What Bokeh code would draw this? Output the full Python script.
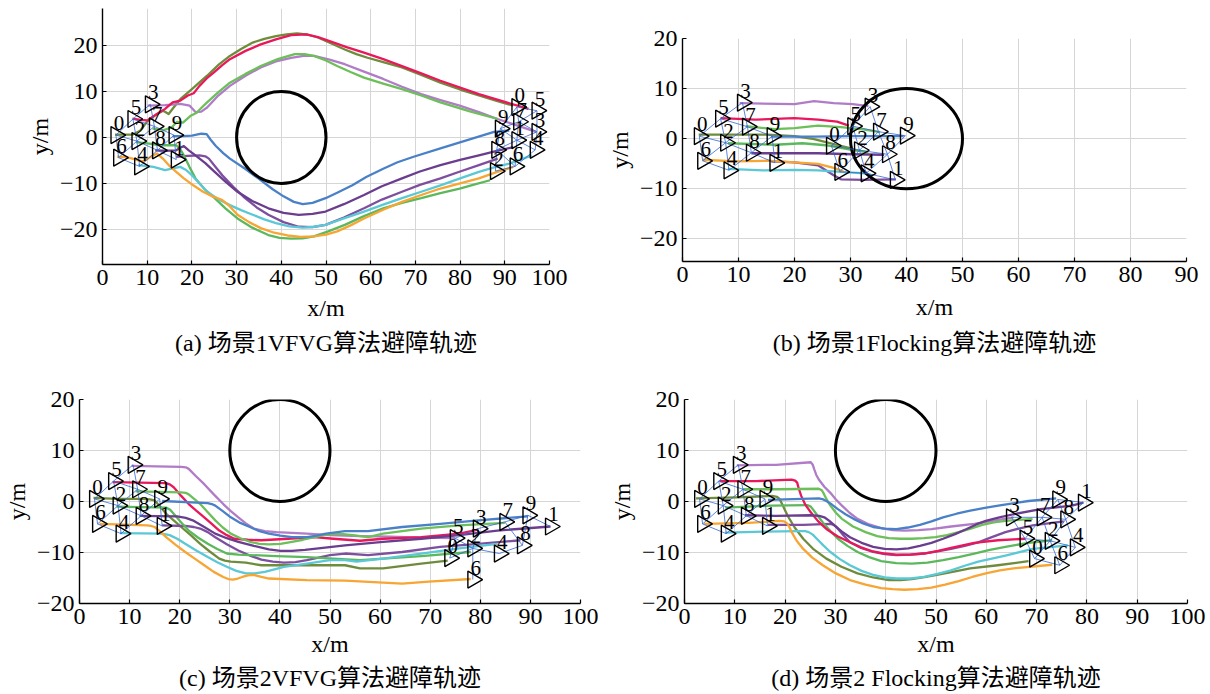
import numpy as np
from bokeh.plotting import figure
from bokeh.layouts import column, row
from bokeh.models import Range1d, FixedTicker, Title
from bokeh.core.properties import value
from bokeh.embed import file_html
from bokeh.resources import INLINE

AGENT_LABELS = ["0", "1", "2", "3", "4", "5", "6", "7", "8", "9"]
COLORS = ["#6e8c3c", "#7e4f9e", "#5cb85c", "#b07cc8", "#5bc8d5",
          "#e8185a", "#f7a533", "#6dbf5a", "#6a3d8e", "#4a80c8"]

# initial formation (same in all scenes)
START_X = [3.0, 16.5, 7.7, 10.7, 8.3, 6.8, 3.6, 11.6, 12.3, 16.0]
START_Y = [0.5, -4.8, -0.8, 7.2, -6.3, 4.0, -4.4, 2.4, -2.8, 0.5]

# final formations
A_END_X = [92.7, 92.7, 87.9, 97.2, 96.8, 97.2, 92.3, 93.1, 88.2, 89.0]
A_END_Y = [6.6, -0.6, -7.3, 1.2, -2.7, 5.8, -6.3, 3.4, -2.7, 1.9]
B_END_X = [26.6, 38.0, 31.6, 33.5, 32.8, 30.4, 28.1, 35.0, 36.6, 39.8]
B_END_Y = [-1.4, -8.2, -2.3, 6.4, -6.9, 2.5, -6.6, 1.4, -3.1, 0.6]
C_END_X = [73.9, 94.0, 78.5, 79.6, 83.8, 75.0, 78.5, 84.9, 88.4, 89.5]
C_END_Y = [-11.1, -4.9, -9.2, -5.3, -10.2, -7.2, -15.3, -4.0, -8.6, -2.7]
D_END_X = [69.6, 79.3, 72.7, 65.0, 77.7, 67.7, 74.6, 71.1, 75.8, 74.2]
D_END_Y = [-11.2, -0.2, -7.7, -3.1, -9.0, -7.3, -12.5, -3.1, -3.5, 0.4]

LINK_DIST = 6.2

# obstacles (centre x, centre y, radius)
OBST_X = [40, 40, 40, 40]
OBST_Y = [0, 0, 10, 10]
OBST_R = 10

# ---------------- scene 1, VFVG (a) ----------------
a0 = [(2.8, 0.6), (5, 0.6), (6.7, 0.6), (8.5, 1.5), (10, 3.5), (11.5, 4.6), (13, 5.5), (13.6, 5.8), (14.8, 5.1),
      (16, 6.6), (17.4, 8.3), (20, 10.5), (23.4, 13.4), (26, 15.8), (28.5, 17.7), (31, 19.2), (33.6, 20.6),
      (36.2, 21.4), (38.8, 22), (41.2, 22.4), (43.5, 22.6), (46, 22.3), (48.2, 21.7), (51.2, 20.4), (54.2, 19.1),
      (56.8, 18.1), (59.3, 17.3), (63, 16.3), (67, 15.2), (71.3, 13.6), (75.6, 11.9), (80, 10.4), (84.2, 9.1),
      (88, 8), (91.9, 6.9)]
a1 = [(16.5, -4.2), (19, -4), (21.7, -3.9), (23, -4.1), (23.8, -4.6), (25.2, -6.3), (26.8, -8.2), (29.3, -10.8),
      (31.9, -13.2), (34.5, -15.2), (37.1, -16.8), (40.5, -18.4), (43.9, -19.4), (47, -19.5), (49.9, -19),
      (54, -17.4), (58.5, -15.4), (62.5, -13.5), (67, -11.8), (71, -10.3), (75.6, -8.9), (80, -7.4), (84.2, -6),
      (88.4, -4.6)]
a2 = [(7.5, -1), (10, -1.3), (13.1, -1.7), (16.5, -1.7), (17.4, -2.6), (18.2, -3.9), (19.5, -6.5), (20.8, -8.9),
      (22.8, -11.2), (25.1, -13.2), (27.5, -15.4), (30.2, -17.6), (33.5, -19.6), (37.1, -21.2), (39.6, -21.8),
      (42.2, -22), (44.8, -21.9), (47.3, -21.5), (50.5, -20.4), (54.2, -19), (58.5, -17.1), (62.8, -15.4),
      (67, -14.2), (71.3, -13.2), (75.6, -12.1), (79.9, -11.1), (83.3, -10.2), (86.7, -9.3)]
a3 = [(10.1, 6.9), (14, 7), (17.4, 7.3), (19.5, 6.9), (20.8, 5.5), (22.1, 5.6), (23.4, 6.5), (25.9, 9.1),
      (28.5, 11.2), (32, 13.4), (35.4, 15.2), (38.8, 16.5), (42.2, 17.3), (45, 17.7), (47.3, 17.7), (50.8, 16.9),
      (54.2, 15.9), (58.5, 14.3), (62.8, 12.7), (67, 11), (71.3, 9.4), (75.6, 8.1), (79.9, 6.9), (84.2, 5.5),
      (88.4, 4), (92.7, 2.6), (97, 1.2)]
a4 = [(8, -6), (11.4, -6.4), (14, -7.1), (15.5, -6.8), (17.4, -6.4), (18.6, -7), (20, -8.2), (21.7, -10),
      (23.4, -11.8), (25.9, -13.4), (28.5, -14.7), (31, -15.8), (33.6, -16.8), (36.2, -17.8), (38.8, -18.6),
      (41.8, -19.3), (44.8, -19.6), (47.3, -19.4), (49.9, -19), (54, -17.6), (58.5, -16.1), (62.8, -14.6),
      (67, -13.2), (71.3, -11.8), (75.6, -10.4), (80, -8.9), (84.2, -7.5), (88, -6.4), (91, -5.7), (96.1, -3.9)]
a5 = [(6.7, 4.1), (8.5, 3.8), (10.1, 3.7), (12, 5), (14, 6.2), (15.7, 7.6), (17.4, 8), (19.1, 9.1), (20.4, 9.6),
      (21.7, 11.2), (23.3, 12.8), (25, 14.2), (26.8, 15.7), (28.5, 17), (32, 18.8), (35.4, 20.2), (38.8, 21.3),
      (42.2, 22.2), (45.6, 22.4), (48.2, 21.8), (50.8, 20.9), (54.6, 19.6), (58.5, 18.4), (62.8, 17), (67, 15.5),
      (71.3, 13.9), (75.6, 12.3), (80, 10.8), (84.2, 9.4), (90, 7.7), (95.3, 6.2)]
a6 = [(3.3, -4.2), (5, -4.3), (6.3, -4.5), (8, -5), (9.2, -5.2), (10.8, -4.2), (12.2, -3.5), (13.5, -4.6),
      (14.8, -6), (16.5, -7.5), (18.2, -8.9), (20.3, -10.4), (22.5, -11.8), (24.6, -12.8), (26.8, -13.6),
      (28.5, -15), (30.2, -16.8), (32.8, -18.4), (35.4, -19.7), (38.4, -20.7), (41.4, -21.3), (44.3, -21.6),
      (47.3, -21.5), (50, -21.1), (52.5, -20.4), (55.5, -19.1), (58.5, -17.6), (62.8, -15.7), (67, -14),
      (71.3, -12.5), (75.6, -11.1), (80, -10), (84.2, -8.9), (88, -7.6), (91.9, -6.4)]
a7 = [(11.2, 1.9), (13.7, 1.6), (15.5, 2.2), (16.7, 3.4), (18, 3.2), (19.7, 4.7), (21, 5.3), (22.2, 6.5),
      (23.4, 7.6), (26, 9.9), (28.5, 11.9), (32, 13.8), (35.4, 15.5), (39.2, 17), (43, 18.1), (45.2, 18.1),
      (47.3, 17.7), (50, 16.7), (52.5, 15.5), (55.5, 14.2), (58.5, 13), (62.8, 11.7), (67, 10.5), (71.3, 9.1),
      (75.6, 7.6), (82, 5.7), (88.4, 4)]
a8 = [(11.8, -2.8), (14, -2.9), (16.5, -2.8), (17.5, -2.2), (18.2, -1.9), (19.3, -2.8), (20.8, -3.9), (23, -5.6),
      (25.1, -7.5), (27.5, -9.6), (30.2, -11.8), (33.5, -13.8), (37.1, -15.4), (40.5, -16.4), (43.9, -16.8),
      (47, -16.6), (49.9, -16.1), (54, -14.5), (58.5, -12.5), (62.5, -10.6), (67, -8.9), (71, -7.4), (75.6, -6),
      (80, -4.9), (84.2, -3.9), (88, -3), (91.9, -2.1)]
a9 = [(15.7, 0.3), (18, 0.3), (20, 0.4), (22.1, 0.8), (23.3, 0.7), (24.2, -0.5), (25.3, -1.8), (27, -3.4),
      (28.5, -4.6), (31.9, -6.8), (35, -9), (38, -11.2), (40.5, -12.8), (42.8, -14), (44.8, -14.5), (47, -14.2),
      (49.9, -13.2), (52.5, -12), (55.9, -10.4), (59, -8.6), (62.8, -6.8), (66, -5.4), (69.6, -4.2), (75.6, -2.4),
      (81.6, -0.6), (87.6, 1.2), (91, 1.5)]

# ---------------- scene 1, Flocking (b) ----------------
b0 = [(2.9, 0.8), (9.5, 0.8), (15.1, 0.8), (20, 0.5), (23.5, -0.1), (26.3, -0.9), (29.7, -1.8), (31.5, -2.4)]
b1 = [(15.8, -4.5), (20, -4.7), (24.2, -5.3), (26, -6.6), (27, -7.3), (28.3, -8.1), (32.5, -8.2), (38.1, -8.1)]
b2 = [(8.1, -0.9), (16.5, -1.2), (21.4, -0.9), (25.6, -1.3), (29.7, -2.1), (33.2, -2.7)]
b3 = [(10.2, 7.1), (20, 6.9), (23.5, 7.5), (27, 7.1), (30.4, 6.9), (33.2, 6.5)]
b4 = [(8.1, -6), (14.4, -6.3), (20, -6.2), (24.2, -6.3), (28.3, -6.6), (32.5, -6.9), (33.9, -7.3)]
b5 = [(6.8, 4.1), (13, 3.8), (20, 4.1), (24.2, 3.8), (27.6, 3.4), (29.7, 2.6)]
b6 = [(3.6, -4.2), (9.5, -4.5), (15.8, -4.4), (20, -4.7), (24.2, -5), (27, -5.8), (28.7, -6.5)]
b7 = [(11.3, 2.5), (16.5, 1.9), (20, 2.1), (24.2, 2.6), (28.3, 2.3), (32.5, 1.8), (35.3, 1.3)]
b8 = [(12.3, -2.9), (18.6, -2.9), (24.2, -2.9), (30.4, -3.1), (36, -3.2)]
b9 = [(15.8, 0.4), (23.5, 0.4), (30.4, 0.5), (39.5, 0.5)]

# ---------------- scene 2, VFVG (c) ----------------
c0 = [(2.8, 0.7), (7.4, 0.5), (12.7, 0.5), (14, 0.4), (15, 0.2), (16.1, -1), (17.3, -2.4), (18.8, -3.7),
      (20.3, -5), (22.2, -6.6), (24.1, -8.3), (26, -9.8), (27.9, -11.2), (29, -11.6), (30.2, -11.8), (33.2, -12),
      (36.3, -12.5), (41.6, -12.5), (49.2, -12.5), (53, -12.5), (56, -13.1), (60.6, -13.1), (68.2, -12.2),
      (73.5, -11.6)]
c1 = [(16.5, -4.7), (21.1, -4.8), (22.8, -5), (24.1, -5.3), (25.6, -6), (27.1, -7), (29.4, -8.4), (31.7, -9.6),
      (34, -10.6), (36.3, -11.4), (38.6, -11.8), (40.8, -12), (43.1, -11.9), (45.4, -11.5), (47.7, -11),
      (50, -10.5), (53, -10.2), (57.6, -10.5), (64.4, -9.9), (72, -8.9), (79.6, -8.3), (88, -7.6)]
c2 = [(7.4, -1), (17.3, -1.2), (18.1, -1.6), (18.8, -2.4), (20.3, -4.1), (21.8, -5.7), (23.7, -7.1),
      (25.6, -8.3), (27.5, -9.3), (29.4, -10.2), (31.7, -10.4), (34, -10.5), (39.3, -10.7), (45.4, -10.9),
      (50.7, -11.2), (56, -11.5), (60.6, -11.2), (68.2, -10.7), (78.1, -9.9)]
c3 = [(10.4, 7), (20.3, 6.8), (21.2, 6.7), (21.8, 6.4), (23.2, 5), (24.9, 3.4), (26.8, 1.4), (28.7, -0.5),
      (30.2, -1.9), (31.7, -3.1), (33.2, -4.3), (34.8, -5.3), (37, -5.8), (39.3, -6), (45.4, -6.3), (50, -6.6),
      (56, -6.8), (62, -6.9), (68, -7.1), (75, -7.2)]
c4 = [(8.1, -6.2), (16.5, -6.3), (18, -6.6), (19.5, -7.3), (21.1, -8.3), (23.3, -9.6), (25.6, -10.9),
      (27.5, -11.9), (29.4, -12.8), (31.3, -13.6), (33.2, -14.1), (35, -14.1), (37, -13.8), (38.9, -13.3),
      (40.8, -12.8), (45.4, -12.2), (50, -11.5), (53, -11.5), (55.3, -11.8), (60.6, -11.2), (68.2, -10.2),
      (75.8, -9.2), (83.4, -8.3)]
c5 = [(6.6, 3.8), (17.3, 3.6), (18.1, 3.3), (18.8, 2.8), (20.3, 1.1), (21.8, -0.5), (23.3, -1.8), (24.9, -3.1),
      (26.4, -4.4), (27.9, -5.7), (29.4, -6.6), (30.9, -7.3), (33.6, -7.5), (36.3, -7.6), (41.6, -7.3),
      (46.9, -7), (50.7, -7.3), (56, -7.7), (60.6, -7.3), (68.2, -7), (75.8, -6.3), (79.6, -5.5)]
c6 = [(4, -4.4), (7.4, -4.5), (13.5, -4.7), (14.3, -4.8), (15, -5), (16.1, -5.9), (17.3, -7), (19.2, -8.5),
      (21.1, -9.9), (23, -11.2), (24.9, -12.5), (26.8, -13.8), (28.7, -14.8), (29.7, -15.2), (30.6, -15.3),
      (31.6, -15.1), (32.5, -14.8), (33.6, -14.5), (34.8, -14.4), (36.3, -14.8), (37.8, -15.1), (45.4, -15.4),
      (53, -15.5), (60.6, -15.9), (64.4, -16.1), (69.7, -15.7), (78.1, -15.2)]
c7 = [(11.2, 2), (20.3, 1.8), (21.2, 1.7), (21.8, 1.4), (23, 0.4), (24.1, -0.5), (25.6, -2.1), (27.1, -3.7),
      (28.6, -5.1), (30.2, -6.3), (32.1, -7.2), (34, -7.9), (35.9, -8.3), (37.8, -8.4), (40.1, -8.3),
      (42.4, -7.9), (44.6, -7.5), (46.9, -7), (48.8, -6.6), (50.7, -6.4), (52.6, -6.4), (54.5, -6.6),
      (57.6, -7), (60.6, -6.3), (68.2, -5.3), (75.8, -4.7), (84.9, -4.2)]
c8 = [(12, -2.8), (19.5, -2.9), (21.2, -3.2), (22.6, -3.7), (24.9, -5), (27.1, -6.3), (29.4, -7.2),
      (31.7, -7.9), (34.8, -8.7), (37.8, -9.4), (40.1, -9.7), (42.4, -9.7), (45, -9.5), (47.7, -9.2),
      (53, -8.6), (60.6, -7.9), (68.2, -7.3), (75.8, -6.6), (83.4, -5.7), (94, -4.9)]
c9 = [(16.5, 0.1), (25.6, -0.3), (26.4, -0.5), (27.1, -0.8), (28.6, -1.9), (30.2, -3.1), (32.1, -4.2),
      (34, -5), (35.9, -5.8), (37.8, -6.3), (40.1, -6.7), (42.4, -7), (45.4, -7), (47.3, -6.7), (49.2, -6.3),
      (53, -5.8), (57.6, -5.8), (64.4, -5), (72, -4.4), (79.6, -3.7), (89.5, -2.9)]

# ---------------- scene 2, Flocking (d) ----------------
d0 = [(2.3, 0.6), (10.4, 0.8), (17.4, 1.1), (18.4, 0.9), (18.9, 0.5), (19.6, -0.9), (20.5, -2.8), (21.9, -5.1),
      (23.6, -7.3), (25.7, -9.4), (28.2, -11.2), (31.2, -12.8), (34.4, -14.1), (37.5, -14.9), (40.6, -15.4),
      (43, -15.4), (45.2, -15.2), (48, -14.8), (50.7, -14.3), (53.8, -13.7), (56.8, -13.1), (62.3, -12.5),
      (68.4, -11.7)]
d1 = [(16.6, -4.6), (23.6, -4.6), (29, -4.4), (29.7, -4.6), (30.2, -5), (31.3, -6.3), (32.9, -8), (35.1, -9.1),
      (37.5, -9.9), (39.8, -10.3), (42.1, -10.5), (44.9, -10.4), (47.6, -10.2), (50.3, -9.8), (53, -9.3),
      (55.7, -8.7), (58.4, -8), (61.1, -7), (63.8, -6), (66.5, -5.3), (69.2, -4.7), (75.4, -3.9)]
d2 = [(8.1, -1.2), (17.4, -0.8), (24.4, -0.7), (25.1, -1), (25.5, -1.5), (26.4, -2.7), (27.5, -4.1), (29, -5.8),
      (30.5, -7.3), (32.4, -8.7), (34.4, -9.9), (36.7, -10.9), (39.1, -11.7), (42.1, -12.1), (45.2, -12.2),
      (48.3, -12), (51.4, -11.5), (54.5, -10.9), (57.6, -10.2), (60.7, -9.5), (63.8, -8.9), (68.4, -8.1),
      (73.1, -7.6)]
d3 = [(10.4, 7.1), (18.2, 7.2), (25.1, 7.7), (25.5, 7.2), (25.8, 6.3), (26.2, 5.2), (26.7, 4.3), (27.8, 2.9),
      (29, 1.7), (30.1, 0.4), (31.3, -0.8), (32.8, -2.2), (34.4, -3.4), (36.7, -4.5), (39.1, -5.2), (41.4, -5.6),
      (43.7, -5.7), (46.5, -5.6), (49.1, -5.4), (53, -4.9), (57.6, -4.4), (60.7, -3.9), (65.4, -3.1)]
d4 = [(8.1, -6.1), (15.9, -5.9), (22.8, -5.8), (24, -5.8), (24.7, -6), (25.5, -6.5), (26.3, -7.3), (27.6, -8.6),
      (29, -9.9), (30.9, -11.3), (32.9, -12.5), (35.2, -13.6), (37.5, -14.4), (39.8, -14.9), (42.1, -15.1),
      (44.9, -15.1), (47.6, -14.8), (50.3, -14.2), (53, -13.5), (55.7, -12.6), (58.4, -11.8), (61.1, -11.2),
      (63.8, -10.6), (69.2, -9.3), (76.2, -8.6)]
d5 = [(7, 4), (14.3, 4), (21.3, 4.3), (22, 4.1), (22.4, 3.7), (22.7, 2.6), (23.2, 1.1), (24, -0.6), (25.1, -2.1),
      (26.5, -3.8), (28.2, -5.4), (30.4, -6.8), (32.9, -8), (35.1, -9), (37.5, -9.8), (39.8, -10.2), (42.1, -10.4),
      (44.9, -10.4), (47.6, -10.2), (50.4, -9.7), (53, -9.1), (55.3, -8.6), (57.6, -8.1), (62.3, -7.6),
      (67.7, -7.3)]
d6 = [(3.9, -4.4), (12.8, -4.2), (18.9, -3.8), (19.8, -3.9), (20.3, -4.2), (20.8, -4.9), (21.3, -6), (22.3, -7.7),
      (23.6, -9.3), (25.4, -11), (27.5, -12.5), (30.1, -14.1), (32.9, -15.4), (36, -16.3), (39.1, -17),
      (41.4, -17.2), (43.7, -17.3), (46.4, -17.2), (49.1, -16.9), (51.8, -16.3), (54.5, -15.6), (57.2, -14.8),
      (59.9, -14.1), (62.7, -13.5), (65.4, -13.1), (73.1, -12.4)]
d7 = [(11.6, 2.4), (18.9, 2.4), (26.7, 2.5), (27.3, 2.2), (27.6, 1.7), (28.2, 0.5), (29, -0.8), (30.1, -2.2),
      (31.3, -3.4), (33.5, -4.9), (36, -6), (38.3, -6.8), (40.6, -7.2), (43, -7.3), (45.2, -7.3), (47.6, -7.2),
      (49.9, -7), (52.2, -6.6), (54.5, -6), (56.9, -5.3), (59.2, -4.6), (61.5, -4.1), (63.8, -3.8), (69.2, -3.4)]
d8 = [(12, -2.7), (18.2, -2.8), (25.1, -2.7), (26.8, -2.8), (27.8, -3.1), (28.8, -3.8), (29.8, -4.7),
      (31.3, -5.9), (32.9, -7), (35.2, -8.1), (37.5, -8.9), (39.8, -9.3), (42.1, -9.4), (44.5, -9.2),
      (46.8, -8.7), (49.1, -8.1), (51.4, -7.3), (53.8, -6.4), (56.1, -5.4), (58, -4.5), (59.9, -3.8),
      (62.6, -3.1), (65.4, -2.5), (70.8, -1.5), (77, -0.8), (79.3, -0.2)]
d9 = [(16.6, 0.3), (26.7, 0.6), (27.6, 0.4), (28.2, 0.1), (29.3, -0.6), (30.5, -1.5), (32, -2.5), (33.6, -3.4),
      (35.5, -4.3), (37.5, -5), (39.8, -5.3), (42.1, -5.4), (44.4, -5.1), (46.8, -4.6), (49.1, -3.9),
      (51.4, -3.1), (54.1, -2.4), (56.8, -1.8), (60, -1.2), (63, -0.7), (68.4, 0.1), (73.9, 0.6)]

A_TRAJ = [a0, a1, a2, a3, a4, a5, a6, a7, a8, a9]
B_TRAJ = [b0, b1, b2, b3, b4, b5, b6, b7, b8, b9]
C_TRAJ = [c0, c1, c2, c3, c4, c5, c6, c7, c8, c9]
D_TRAJ = [d0, d1, d2, d3, d4, d5, d6, d7, d8, d9]

CAPTIONS = ["(a) 场景1VFVG算法避障轨迹", "(b) 场景1Flocking算法避障轨迹",
            "(c) 场景2VFVG算法避障轨迹", "(d) 场景2 Flocking算法避障轨迹"]

SERIF = "'Liberation Serif', 'Times New Roman', serif"
CAP_FONT = "'Liberation Serif', 'Noto Sans CJK SC'"
MINUS = "\u2212"


def add_formation(p, xs, ys):
    ex, ey = [], []
    n = len(xs)
    for i in range(n):
        for j in range(i + 1, n):
            if np.hypot(xs[i] - xs[j], ys[i] - ys[j]) < LINK_DIST:
                ex.append([xs[i], xs[j]])
                ey.append([ys[i], ys[j]])
    p.multi_line(ex, ey, line_color="#3567d0", line_width=0.8)


def add_markers(p, xs, ys):
    p.scatter(xs, ys, marker="triangle", angle=-np.pi / 2, size=17,
              fill_color=None, line_color="black", line_width=1.4)
    p.text(xs, ys, text=AGENT_LABELS, x_offset=3, y_offset=-12,
           text_font=value(SERIF), text_font_size="21px", text_color="black",
           text_align="center", text_baseline="middle")


def make_panel(width, height, xr, yr, xticks, yticks, xgrid, ygrid,
               borders, trajs, end_x, end_y, ox, oy, caption, label_standoff, cap_standoff):
    bl, br, bt, bb = borders
    p = figure(width=width, height=height, x_range=Range1d(*xr), y_range=Range1d(*yr),
               output_backend="svg", toolbar_location=None, frame_align=False,
               min_border_left=bl, min_border_right=br, min_border_top=bt, min_border_bottom=bb)
    p.outline_line_color = None
    p.background_fill_color = "white"
    p.border_fill_color = "white"

    for ax, ticks in ((p.xaxis, xticks), (p.yaxis, yticks)):
        ax.ticker = FixedTicker(ticks=ticks)
        ax.major_label_overrides = {t: (MINUS + str(-t)) if t < 0 else str(t) for t in ticks}
        ax.axis_line_color = "black"
        ax.axis_line_width = 1.4
        ax.major_tick_in = 4
        ax.major_tick_out = 0
        ax.major_tick_line_color = "black"
        ax.major_tick_line_width = 1.2
        ax.minor_tick_line_color = None
        ax.major_label_text_font = SERIF
        ax.major_label_text_font_size = "24px"
        ax.major_label_text_color = "black"
        ax.major_label_standoff = 5
        ax.axis_label_text_font = SERIF
        ax.axis_label_text_font_size = "24px"
        ax.axis_label_text_font_style = "normal"
        ax.axis_label_text_color = "black"
    p.xaxis.axis_label_standoff = label_standoff
    p.yaxis.axis_label_standoff = 4
    p.xaxis.axis_label = "x/m"
    p.yaxis.axis_label = "y/m"
    p.yaxis.major_label_orientation = "horizontal"

    p.xgrid.ticker = FixedTicker(ticks=xgrid)
    p.ygrid.ticker = FixedTicker(ticks=ygrid)
    for g in (p.xgrid, p.ygrid):
        g.grid_line_color = "#d6d6d6"
        g.grid_line_width = 1

    for k, tr in enumerate(trajs):
        xs = [q[0] for q in tr]
        ys = [q[1] for q in tr]
        p.line(xs, ys, line_color=COLORS[k], line_width=2.3, line_join="round")

    p.ellipse(x=[ox], y=[oy], width=2 * OBST_R, height=2 * OBST_R,
              fill_color=None, line_color="black", line_width=3)

    add_formation(p, START_X, START_Y)
    add_formation(p, end_x, end_y)
    add_markers(p, START_X, START_Y)
    add_markers(p, end_x, end_y)

    p.add_layout(Title(text=caption, align="center", text_font=CAP_FONT,
                       text_font_size="24px", text_font_style="normal",
                       text_color="black", standoff=cap_standoff), "below")
    return p


pa = make_panel(600, 360, (0, 100), (-27.6, 28), list(range(0, 101, 10)), [-20, -10, 0, 10, 20],
                list(range(10, 101, 10)), [-20, -10, 0, 10, 20],
                (102, 51, 8, 93), A_TRAJ, A_END_X, A_END_Y, OBST_X[0], OBST_Y[0], CAPTIONS[0], 7, 9)
pb = make_panel(610, 360, (0, 90), (-24.5, 20), list(range(0, 91, 10)), [-20, -10, 0, 10, 20],
                list(range(10, 81, 10)), [-20, -10, 0, 10, 20],
                (82, 24, 38, 97), B_TRAJ, B_END_X, B_END_Y, OBST_X[1], OBST_Y[1], CAPTIONS[1], 9, 10)
pc = make_panel(600, 334, (0, 100), (-20, 20), list(range(0, 101, 10)), [-20, -10, 0, 10, 20],
                list(range(10, 91, 10)), [-10, 0, 10],
                (78, 20, 39, 91), C_TRAJ, C_END_X, C_END_Y, OBST_X[2], OBST_Y[2], CAPTIONS[2], 4, 6)
pd = make_panel(610, 334, (0, 100), (-20, 20), list(range(0, 101, 10)), [-20, -10, 0, 10, 20],
                list(range(10, 91, 10)), [-10, 0, 10],
                (84, 23, 39, 91), D_TRAJ, D_END_X, D_END_Y, OBST_X[3], OBST_Y[3], CAPTIONS[3], 4, 6)

layout = column(row(pa, pb), row(pc, pd))
open("out.html", "w").write(file_html(layout, INLINE))
